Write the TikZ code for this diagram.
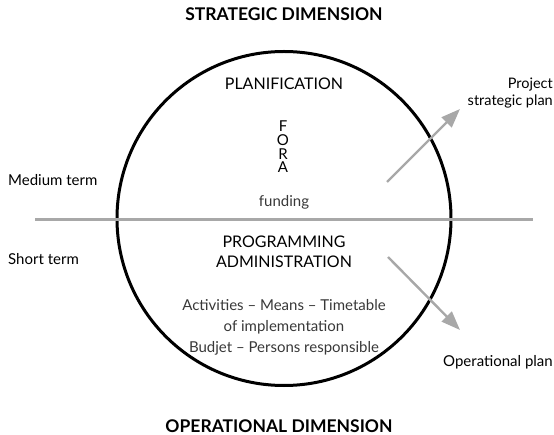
\documentclass[tikz,border=0pt]{standalone}
\usepackage{fontspec}
\setmainfont{Lato}
\usetikzlibrary{arrows.meta}
\definecolor{linegray}{gray}{0.66}
\definecolor{textgray}{gray}{0.22}

\tikzset{
  label text/.style={font=\fontsize{15}{17}\selectfont, inner sep=0pt},
  caps text/.style={font=\fontsize{16}{20}\selectfont, inner sep=0pt},
  dimension/.style={font=\fontsize{17.5}{20}\selectfont\bfseries, inner sep=0pt},
  plan arrow/.style={linegray, line width=2.4pt, -{Triangle[length=19pt,width=14pt]}},
}

\begin{document}
\begin{tikzpicture}[x=1pt, y=-1pt]
\useasboundingbox (0,0) rectangle (554,435);

\node[dimension] (strategic) at (284,14) {STRATEGIC DIMENSION};
\node[dimension] (operational) at (279,426) {OPERATIONAL DIMENSION};

\draw[line width=3pt] (284,218.5) circle (167);
\draw[linegray, line width=3pt] (35,220) -- (533,220);

\node[label text, anchor=west] (medium) at (8,180) {Medium term};
\node[label text, anchor=west] (short) at (8,259) {Short term};

\node[caps text] (planif) at (284,84) {PLANIFICATION};
\node[caps text, align=center, font=\fontsize{15}{13.7}\selectfont] (fora) at (283,147) {F\\O\\R\\A};
\node[label text, textgray] (funding) at (284,202) {funding};

\node[caps text, align=center] (prog) at (284,252) {PROGRAMMING\\ADMINISTRATION};
\node[label text, textgray, align=center, font=\fontsize{15}{21}\selectfont] (activities) at (284,327)
  {Activities -- Means -- Timetable\\of implementation\\Budjet -- Persons responsible};

\node[label text, anchor=east, align=right, font=\fontsize{14.5}{17.5}\selectfont] (project) at (553,93) {Project\\strategic plan};
\node[label text, anchor=east] (opplan) at (553,362) {Operational plan};

\coordinate (up start) at (387,182);
\coordinate (up end) at (460,109);
\draw[plan arrow] (up start) -- (up end);

\coordinate (down start) at (388,257);
\coordinate (down end) at (460,330);
\draw[plan arrow] (down start) -- (down end);

\end{tikzpicture}
\end{document}
